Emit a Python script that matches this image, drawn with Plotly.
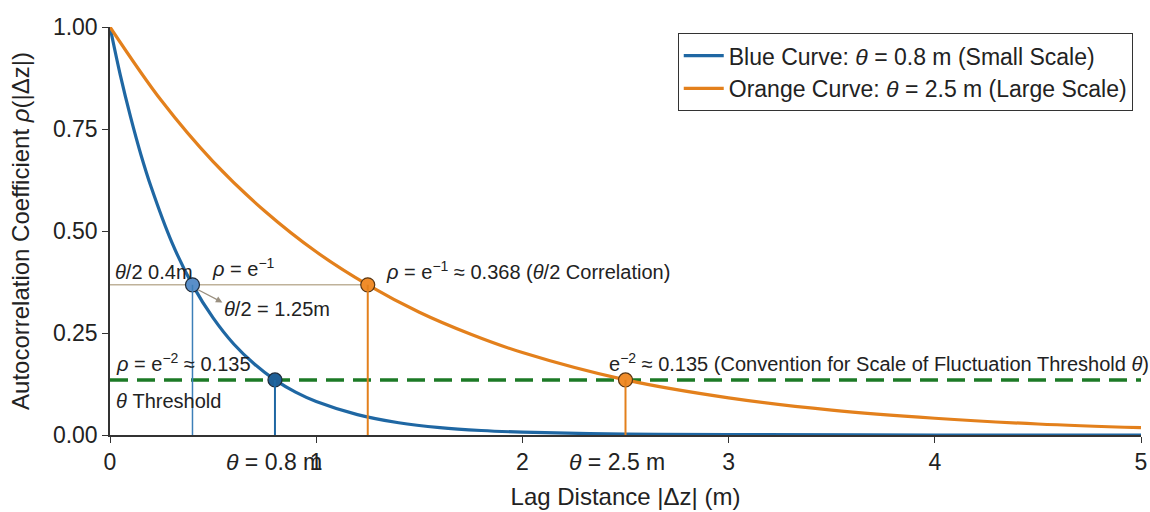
import plotly.graph_objects as go

# ---- data ----
blue_x = [0, 0.05, 0.1, 0.15, 0.2, 0.3, 0.4, 0.5, 0.6, 0.7, 0.8, 0.9, 1.0, 1.2, 1.4, 1.6, 1.8, 2.0, 2.5, 3.0, 4.0, 5.0]
blue_y = [1.0, 0.882, 0.779, 0.687, 0.607, 0.472, 0.368, 0.287, 0.223, 0.174, 0.135, 0.105, 0.082, 0.050, 0.030, 0.018, 0.011, 0.007, 0.002, 0.001, 0.0, 0.0]
orange_x = [0, 0.25, 0.5, 0.75, 1.0, 1.25, 1.5, 1.75, 2.0, 2.5, 3.0, 3.5, 4.0, 4.5, 5.0]
orange_y = [1.0, 0.819, 0.670, 0.549, 0.449, 0.368, 0.301, 0.247, 0.202, 0.135, 0.091, 0.061, 0.041, 0.027, 0.018]

rho_e1 = 0.368
rho_e2 = 0.135
blue_pts_x = [0.4, 0.8]
blue_pts_y = [rho_e1, rho_e2]
orange_pts_x = [1.25, 2.5]
orange_pts_y = [rho_e1, rho_e2]

x_ticks = [0, 1, 2, 3, 4, 5]
y_ticks = [0.0, 0.25, 0.5, 0.75, 1.0]

BLUE = "#1f67a3"
ORANGE = "#e3801c"
GREEN = "#1c7a26"
TAN = "#bfb29a"
FONT = "Liberation Sans, Arial, sans-serif"
TXT = "#222222"

fig = go.Figure()

# reference lines
fig.add_shape(type="line", x0=0, x1=orange_pts_x[0], y0=rho_e1, y1=rho_e1,
              line=dict(color=TAN, width=1.5), layer="below")
fig.add_shape(type="line", x0=blue_pts_x[0], x1=blue_pts_x[0], y0=0, y1=blue_pts_y[0],
              line=dict(color="#3d7fb8", width=1.5))
fig.add_shape(type="line", x0=blue_pts_x[1], x1=blue_pts_x[1], y0=0, y1=blue_pts_y[1],
              line=dict(color=BLUE, width=2))
fig.add_shape(type="line", x0=orange_pts_x[0], x1=orange_pts_x[0], y0=0, y1=orange_pts_y[0],
              line=dict(color=ORANGE, width=2))
fig.add_shape(type="line", x0=orange_pts_x[1], x1=orange_pts_x[1], y0=0, y1=orange_pts_y[1],
              line=dict(color=ORANGE, width=2))

fig.add_trace(go.Scatter(x=[0, 5], y=[rho_e2, rho_e2], mode="lines",
                         line=dict(color=GREEN, width=3.5, dash="18px,9px"),
                         showlegend=False, hoverinfo="skip"))

fig.add_trace(go.Scatter(x=blue_x, y=blue_y, mode="lines", line_shape="spline",
                         line=dict(color=BLUE, width=3.2),
                         name="Blue Curve: <i>θ</i> = 0.8 m (Small Scale)", cliponaxis=False))
fig.add_trace(go.Scatter(x=orange_x, y=orange_y, mode="lines", line_shape="spline",
                         line=dict(color=ORANGE, width=3.2),
                         name="Orange Curve: <i>θ</i> = 2.5 m (Large Scale)", cliponaxis=False))

fig.add_trace(go.Scatter(x=blue_pts_x, y=blue_pts_y, mode="markers",
                         marker=dict(size=14, color=["#5a8fc9", "#1f5f96"],
                                     line=dict(color="#1c2a3a", width=1.2)),
                         showlegend=False, cliponaxis=False))
fig.add_trace(go.Scatter(x=orange_pts_x, y=orange_pts_y, mode="markers",
                         marker=dict(size=14, color="#f08c2a",
                                     line=dict(color="#5a3510", width=1.2)),
                         showlegend=False, cliponaxis=False))

ann_font = dict(family=FONT, size=20, color=TXT)
anns = [
    dict(x=0.015, y=0.40, text="<i>θ</i>/2 0.4m"),
    dict(x=0.485, y=0.41, text="<i>ρ</i> = e<sup>−1</sup>"),
    dict(x=0.545, y=0.31, text="<i>θ</i>/2 = 1.25m"),
    dict(x=1.33, y=0.404, text="<i>ρ</i> = e<sup>−1</sup> ≈ 0.368 (<i>θ</i>/2 Correlation)"),
    dict(x=0.02, y=0.178, text="<i>ρ</i> = e<sup>−2</sup> ≈ 0.135"),
    dict(x=0.02, y=0.084, text="<i>θ</i> Threshold"),
    dict(x=2.41, y=0.178, text="e<sup>−2</sup> ≈ 0.135 (Convention for Scale of Fluctuation Threshold <i>θ</i>)"),
]
for a in anns:
    fig.add_annotation(x=a["x"], y=a["y"], text=a["text"], xanchor="left",
                       yanchor="middle", showarrow=False, font=ann_font)

for xv, label in [(0.795, "<i>θ</i> = 0.8 m"), (2.46, "<i>θ</i> = 2.5 m")]:
    fig.add_annotation(x=xv, y=-0.066, xref="x", yref="paper", text=label, showarrow=False,
                       xanchor="center", yanchor="middle",
                       font=dict(family=FONT, size=23, color=TXT))

# small arrow from the blue marker
fig.add_annotation(x=0.545, y=0.325, ax=0.42, ay=0.358, axref="x", ayref="y",
                   text="", showarrow=True, arrowhead=2, arrowsize=1, arrowwidth=1.3,
                   arrowcolor="#9a9080")

fig.update_layout(
    width=1150, height=512,
    margin=dict(l=110, r=9, t=27, b=77),
    paper_bgcolor="white", plot_bgcolor="white",
    font=dict(family=FONT, size=20, color=TXT),
    legend=dict(x=0.992, y=0.985, xanchor="right", yanchor="top",
                bordercolor="#333333", borderwidth=1, bgcolor="white",
                font=dict(family=FONT, size=23, color=TXT),
                tracegroupgap=0, itemwidth=40),
    showlegend=True,
)
fig.update_xaxes(range=[0, 5], tickvals=x_ticks, ticktext=[str(v) for v in x_ticks],
                 showline=True, linecolor="#333333", linewidth=1.5, ticks="outside",
                 ticklen=6, tickcolor="#333333", showgrid=False, zeroline=False,
                 automargin=False,
                 title=dict(text="Lag Distance |Δz| (m)", font=dict(size=24), standoff=14),
                 tickfont=dict(size=23))
fig.update_yaxes(range=[0, 1], tickvals=y_ticks, tickformat=".2f",
                 showline=True, linecolor="#333333", linewidth=1.5, ticks="outside",
                 ticklen=6, tickcolor="#333333", showgrid=False, zeroline=False,
                 automargin=False,
                 title=dict(text="Autocorrelation Coefficient <i>ρ</i>(|Δz|)", font=dict(size=24), standoff=16),
                 tickfont=dict(size=23))

fig.write_html("out.html", config={"displayModeBar": False},
               post_script="document.body.style.margin='0';")
